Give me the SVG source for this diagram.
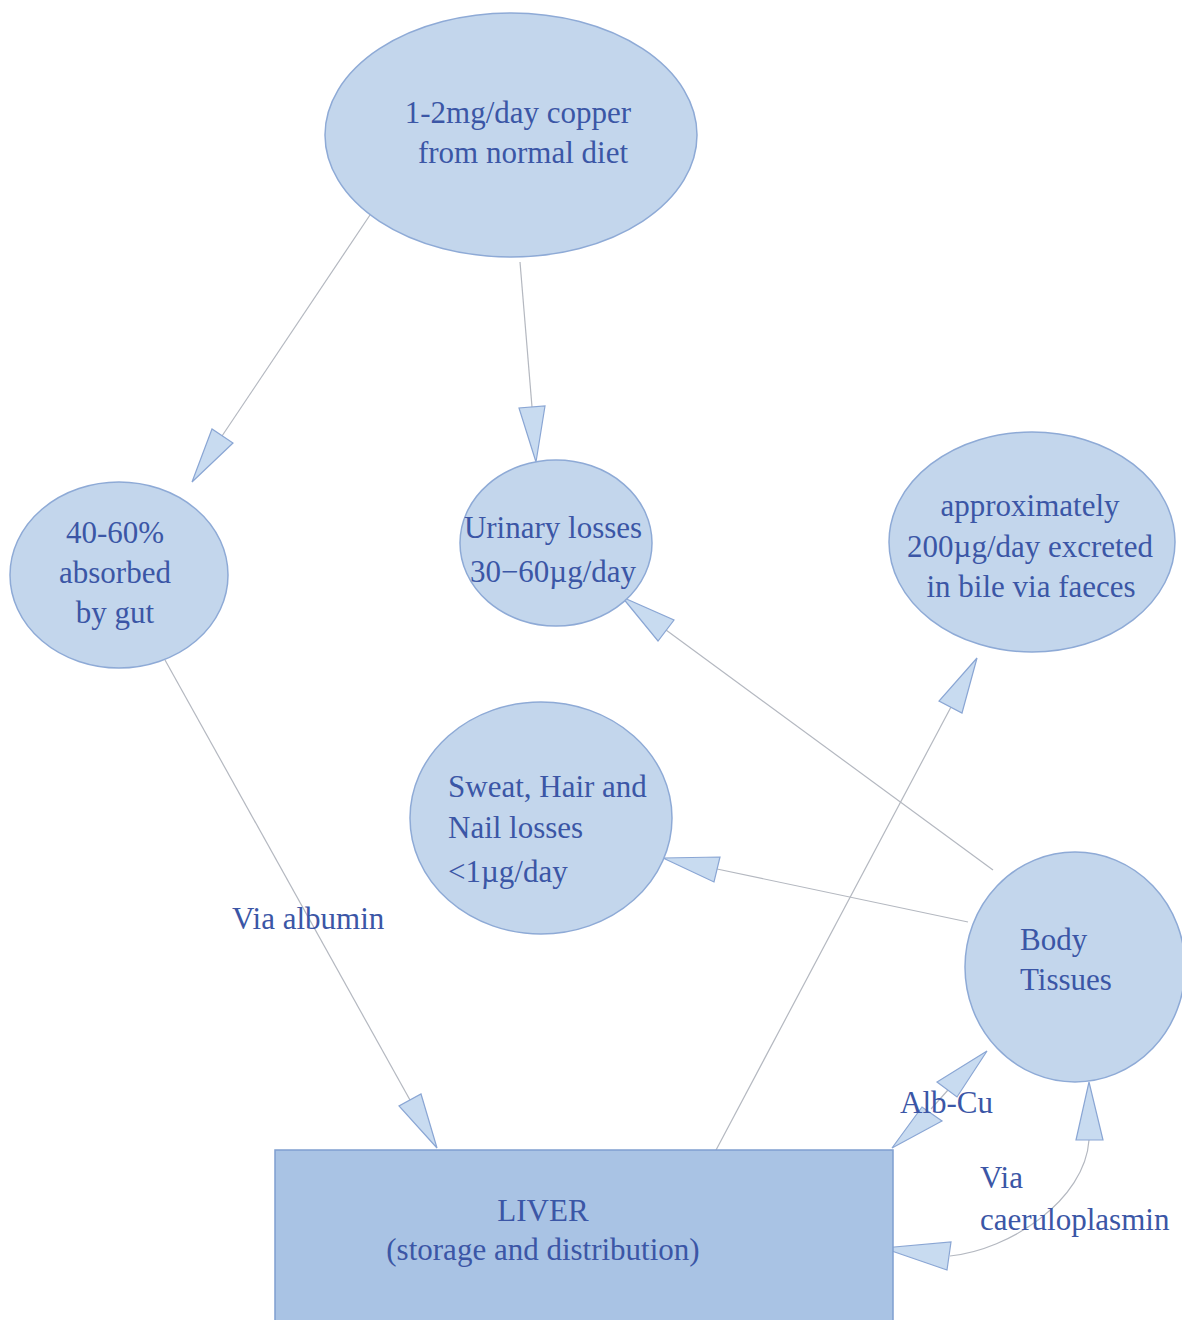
<svg xmlns="http://www.w3.org/2000/svg" width="1182" height="1320" viewBox="0 0 1182 1320">
<style>
.node{fill:#c3d6ec;stroke:#8eaad6;stroke-width:1.5}
.liver{fill:#a9c3e4;stroke:#7f9fd0;stroke-width:1.5}
.t{font-family:"Liberation Serif","Times New Roman",serif;font-size:31px;fill:#3b56a6}
.c{text-anchor:middle}
.ln{fill:none;stroke:#b4b8c0;stroke-width:1.2}
.ah{fill:#c8dbf0;stroke:#8aa6d4;stroke-width:1.2;stroke-linejoin:miter}
</style>
<rect width="1182" height="1320" fill="#ffffff"/>
<g id="connectors">
<line class="ln" x1="370" y1="215" x2="222" y2="436"/>
<polygon class="ah" points="192,482 233,443 212,429"/>
<line class="ln" x1="520" y1="262" x2="532" y2="407"/>
<polygon class="ah" points="536,462 545,406 519,408"/>
<line class="ln" x1="165" y1="660" x2="410" y2="1100"/>
<polygon class="ah" points="437,1148 421,1094 399,1106"/>
<line class="ln" x1="715" y1="1152" x2="951" y2="707"/>
<polygon class="ah" points="977,658 939,701 962,713"/>
<line class="ln" x1="993" y1="870" x2="666" y2="630"/>
<polygon class="ah" points="622,597 674,620 658,641"/>
<line class="ln" x1="968" y1="922" x2="717" y2="869"/>
<polygon class="ah" points="663,858 720,857 714,882"/>
<line class="ln" x1="931" y1="1109" x2="948" y2="1090"/>
<polygon class="ah" points="987,1051 957,1097 937,1082"/>
<polygon class="ah" points="892,1148 942,1121 922,1107"/>
<path class="ln" d="M950 1256 C1010 1250 1085 1200 1089 1140"/>
<polygon class="ah" points="1089,1082 1076,1140 1103,1140"/>
<polygon class="ah" points="883,1248 951,1242 947,1270"/>
<text class="t" x="232" y="929">Via albumin</text>
<text class="t" x="900" y="1113">Alb-Cu</text>
<text class="t" x="980" y="1188">Via</text>
<text class="t" x="980" y="1230">caeruloplasmin</text>
</g>
<g id="diet">
<ellipse class="node" cx="511" cy="135" rx="186" ry="122"/>
<text class="t c" x="518" y="123">1-2mg/day copper</text>
<text class="t c" x="523" y="163">from normal diet</text>
</g>
<g id="gut">
<ellipse class="node" cx="119" cy="575" rx="109" ry="93"/>
<text class="t c" x="115" y="543">40-60%</text>
<text class="t c" x="115" y="583">absorbed</text>
<text class="t c" x="115" y="623">by gut</text>
</g>
<g id="urinary">
<ellipse class="node" cx="556" cy="543" rx="96" ry="83"/>
<text class="t c" x="553" y="538">Urinary losses</text>
<text class="t c" x="553" y="582">30−60µg/day</text>
</g>
<g id="bile">
<ellipse class="node" cx="1032" cy="542" rx="143" ry="110"/>
<text class="t c" x="1030" y="516">approximately</text>
<text class="t c" x="1030" y="557">200µg/day excreted</text>
<text class="t c" x="1031" y="597">in bile via faeces</text>
</g>
<g id="sweat">
<ellipse class="node" cx="541" cy="818" rx="131" ry="116"/>
<text class="t" x="448" y="797">Sweat, Hair and</text>
<text class="t" x="448" y="838">Nail losses</text>
<text class="t" x="448" y="882">&lt;1µg/day</text>
</g>
<g id="body">
<ellipse class="node" cx="1075" cy="967" rx="110" ry="115"/>
<text class="t" x="1020" y="950">Body</text>
<text class="t" x="1020" y="990">Tissues</text>
</g>
<g id="liver">
<rect class="liver" x="275" y="1150" width="618" height="180"/>
<text class="t c" x="543" y="1221">LIVER</text>
<text class="t c" x="543" y="1260">(storage and distribution)</text>
</g>
</svg>
